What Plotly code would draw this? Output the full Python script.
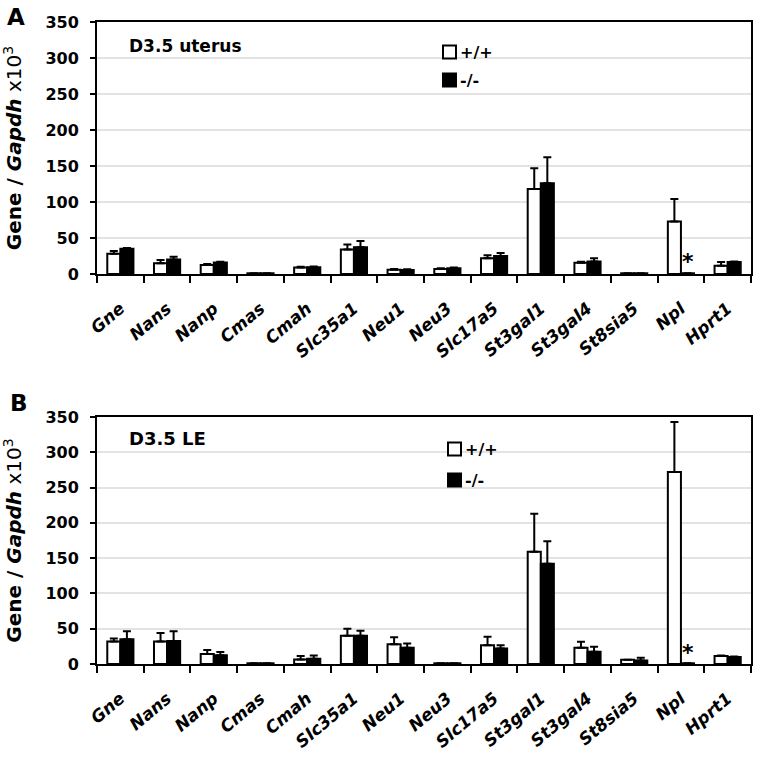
import plotly.graph_objects as go

genes = ["Gne", "Nans", "Nanp", "Cmas", "Cmah", "Slc35a1", "Neu1", "Neu3",
         "Slc17a5", "St3gal1", "St3gal4", "St8sia5", "Npl", "Hprt1"]

# Panel A: D3.5 uterus
a_wt = [28, 15, 12.5, 1, 9, 34, 6, 7, 22, 118, 15.5, 1, 73, 11.5]
a_wt_err = [4, 4.5, 1.5, 0, 1, 7, 1, 1, 4, 29, 1.5, 0, 31, 5]
a_ko = [35, 20, 16, 1, 9.5, 37, 5.5, 8, 25, 126, 17.5, 1, 1, 16.5]
a_ko_err = [1, 4, 1, 0, 1, 9, 1, 1, 4, 36, 4.5, 0, 0, 1]

# Panel B: D3.5 LE
b_wt = [32, 32, 14, 1, 6.5, 40, 28, 1, 26.5, 159, 23, 6, 272, 11.5]
b_wt_err = [4, 12, 6, 0, 5, 10, 10, 0, 12, 54, 8.5, 0, 71, 0.5]
b_ko = [35, 32.5, 12.5, 1, 7.5, 40, 23, 1, 22, 142, 17.5, 5, 1, 10]
b_ko_err = [11.5, 14, 4.5, 0, 4.5, 7, 6, 0, 4.5, 32, 7, 4, 0, 0.5]

y_ticks = [0, 50, 100, 150, 200, 250, 300, 350]
tick_labels = ["<b><i>%s</i></b>" % g for g in genes]
legend_names = ["+/+", "-/-"]
FONT = "DejaVu Sans, Arial, sans-serif"

fig = go.Figure()

def add_pair(wt, wt_err, ko, ko_err, xa, ya):
    fig.add_trace(go.Bar(
        x=genes, y=wt, name=legend_names[0], xaxis=xa, yaxis=ya,
        marker=dict(color="white", line=dict(color="black", width=2)),
        error_y=dict(type="data", array=wt_err, arrayminus=[0]*len(wt_err),
                     symmetric=False, color="black", thickness=2, width=4),
        showlegend=False))
    fig.add_trace(go.Bar(
        x=genes, y=ko, name=legend_names[1], xaxis=xa, yaxis=ya,
        marker=dict(color="black", line=dict(color="black", width=2)),
        error_y=dict(type="data", array=ko_err, arrayminus=[0]*len(ko_err),
                     symmetric=False, color="black", thickness=2, width=4),
        showlegend=False))

add_pair(a_wt, a_wt_err, a_ko, a_ko_err, "x", "y")
add_pair(b_wt, b_wt_err, b_ko, b_ko_err, "x2", "y2")

xcommon = dict(type="category", categoryorder="array", categoryarray=genes,
               tickmode="array", tickvals=genes, ticktext=tick_labels,
               tickangle=-40, tickson="boundaries", ticks="outside",
               ticklen=7, tickwidth=2, tickcolor="black",
               ticklabelstandoff=16, ticklabelshift=0, automargin=False,
               showline=True, linecolor="black", linewidth=2, mirror=True,
               showgrid=False, tickfont=dict(family=FONT, size=17, color="black"))
ycommon = dict(range=[0, 350], tickvals=y_ticks,
               ticktext=["<b>%d</b>" % v for v in y_ticks],
               ticks="outside", ticklen=5, tickwidth=2, tickcolor="black",
               ticklabelstandoff=8, automargin=False,
               showline=True, linecolor="black", linewidth=2, mirror=True,
               showgrid=True, gridcolor="#e3e3e3", gridwidth=1.5,
               zeroline=False, tickfont=dict(family=FONT, size=16, color="black"),
               title=dict(text="<b>Gene / <i>Gapdh</i></b> x10<sup>3</sup>",
                          font=dict(family=FONT, size=20, color="black"), standoff=22))

def py(p):  # pixel row -> paper y
    return 1 - (p - 22) / 642.0

def px(p):  # pixel column -> paper x
    return (p - 97) / 654.0

shapes = []
annotations = [
    dict(text="<b>D3.5 uterus</b>", x=px(127), y=py(46), xref="paper", yref="paper",
         xanchor="left", yanchor="middle", showarrow=False,
         font=dict(family=FONT, size=17, color="black")),
    dict(text="<b>D3.5 LE</b>", x=px(127), y=py(438), xref="paper", yref="paper",
         xanchor="left", yanchor="middle", showarrow=False,
         font=dict(family=FONT, size=18, color="black")),
    dict(text="<b>A</b>", x=px(16), y=py(17), xref="paper", yref="paper",
         xanchor="center", yanchor="middle", showarrow=False,
         font=dict(family=FONT, size=23, color="black")),
    dict(text="<b>B</b>", x=px(19), y=py(403), xref="paper", yref="paper",
         xanchor="center", yanchor="middle", showarrow=False,
         font=dict(family=FONT, size=23, color="black")),
    dict(text="<b>*</b>", x="Npl", y=18, xref="x", yref="y", xshift=7,
         showarrow=False, font=dict(family=FONT, size=22, color="black")),
    dict(text="<b>*</b>", x="Npl", y=16, xref="x2", yref="y2", xshift=7,
         showarrow=False, font=dict(family=FONT, size=22, color="black")),
]

# manual legends (square + label) for each panel
for (x0, ys) in [(443, [52, 80]), (448, [449, 480])]:
    for i, yc in enumerate(ys):
        shapes.append(dict(type="rect", xref="paper", yref="paper",
                           x0=px(x0), x1=px(x0 + 13), y0=py(yc - 6.5), y1=py(yc + 6.5),
                           line=dict(color="black", width=2),
                           fillcolor="white" if i == 0 else "black"))
        annotations.append(dict(text="<b>%s</b>" % legend_names[i], x=px(x0 + 15), y=py(yc),
                                xref="paper", yref="paper", xanchor="left", yanchor="middle",
                                showarrow=False, font=dict(family=FONT, size=16, color="black")))

fig.update_layout(
    width=757, height=757,
    margin=dict(l=97, r=6, t=22, b=93, autoexpand=False),
    paper_bgcolor="white", plot_bgcolor="white",
    barmode="group", bargap=0.44, bargroupgap=0.0,
    font=dict(family=FONT, color="black"),
    showlegend=False,
    xaxis=dict(xcommon, domain=[0, 1], anchor="y"),
    yaxis=dict(ycommon, domain=[py(274), 1], anchor="x"),
    xaxis2=dict(xcommon, domain=[0, 1], anchor="y2"),
    yaxis2=dict(ycommon, domain=[0, py(417)], anchor="x2"),
    shapes=shapes,
    annotations=annotations,
)

fig.write_html("out.html", config={"displayModeBar": False},
               post_script="document.body.style.margin='0';")
